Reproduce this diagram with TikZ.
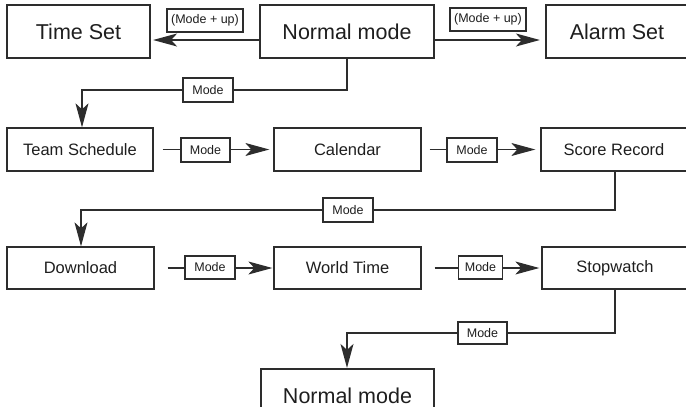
\documentclass[tikz,border=0pt]{standalone}
\usepackage{fontspec}
\setmainfont{Liberation Sans}
\usetikzlibrary{arrows.meta,calc}
\definecolor{linec}{RGB}{45,45,45}
\definecolor{textc}{RGB}{30,30,30}
\begin{document}
\begin{tikzpicture}[x=1pt,y=-1pt,
  bigbox/.style={draw=linec,line width=2.2pt,text=textc,font=\fontsize{21.5}{24}\selectfont,minimum height=53pt,inner sep=0pt},
  midbox/.style={draw=linec,line width=1.3pt,text=textc,font=\fontsize{16.5}{19}\selectfont,minimum height=43pt,minimum width=146pt,inner sep=0pt},
  lblbox/.style={draw=linec,line width=1.1pt,fill=white,text=textc,font=\fontsize{12.5}{14}\selectfont,minimum height=23pt,minimum width=49pt,inner sep=0pt},
  conn/.style={draw=linec,line width=1.2pt},
  arr/.style={conn,-{Stealth[length=24pt,width=13pt,inset=6pt]}}]
\useasboundingbox (0,0) rectangle (686,407);
\clip (0,0) rectangle (686,407);
% top row
\node[bigbox,minimum width=143pt] (tset) at (78.5,31.5) {Time Set};
\node[bigbox,minimum width=174pt] (nm) at (347,31.5) {Normal mode};
\node[bigbox,minimum width=142pt] (aset) at (617,31.5) {Alarm Set};
% row 2
\node[midbox] (team) at (80,149.5) {Team Schedule};
\node[midbox,minimum width=147pt] (cal) at (347.5,149.5) {Calendar};
\node[midbox] (score) at (614,149.5) {Score Record};
% row 3
\node[midbox,minimum width=147pt,minimum height=42pt] (down) at (80.5,268) {Download};
\node[midbox,minimum width=147pt,minimum height=42pt] (world) at (347.5,268) {World Time};
\node[midbox,minimum height=42pt] (stop) at (615,268) {Stopwatch};
% bottom
\node[bigbox,minimum width=173pt] (nm2) at (347.5,395.5) {Normal mode};
% connectors top
\draw[arr,shorten >=2pt] ($(nm.west)+(0,8.5)$) -- ($(tset.east)+(0,8.5)$);
\draw[arr,shorten >=5pt] ($(nm.east)+(0,8.5)$) -- ($(aset.west)+(0,8.5)$);
\node[lblbox,minimum width=76pt] (l1) at (205,20.5) {(Mode + up)};
\node[lblbox,minimum width=76pt] (l2) at (488,19.5) {(Mode + up)};
% nm -> team
\coordinate (c1) at (82,90);
\draw[arr] (nm.south) |- (c1) -- (c1 |- team.north);
\node[lblbox,minimum width=50pt,minimum height=24pt] (l3) at (208,90) {Mode};
% team -> cal
\draw[arr,shorten <=9pt,shorten >=4pt] (team.east) -- (cal.west);
\node[lblbox,minimum height=24pt] (l4) at (205.5,150) {Mode};
% cal -> score
\draw[arr,shorten <=8pt,shorten >=5pt] (cal.east) -- (score.west);
\node[lblbox,minimum width=50pt,minimum height=24pt] (l5) at (472,150) {Mode};
% score -> download
\coordinate (c2) at (81,210);
\draw[arr] ($(score.south)+(1,0)$) |- (c2) -- (c2 |- down.north);
\node[lblbox,minimum width=50pt,minimum height=24pt] (l6) at (348,210) {Mode};
% download -> world
\draw[arr,shorten <=13pt,shorten >=1pt] (down.east) -- (world.west);
\node[lblbox,minimum width=50pt] (l7) at (210,267.5) {Mode};
% world -> stop
\draw[arr,shorten <=13pt,shorten >=2pt] (world.east) -- (stop.west);
\node[lblbox,minimum width=44pt] (l8) at (480.5,267.5) {Mode};
% stop -> nm2
\coordinate (c3) at (347,333);
\draw[arr] (stop.south) |- (c3) -- (c3 |- nm2.north);
\node[lblbox,minimum width=49pt,minimum height=22pt] (l9) at (482.5,333) {Mode};
\end{tikzpicture}
\end{document}
